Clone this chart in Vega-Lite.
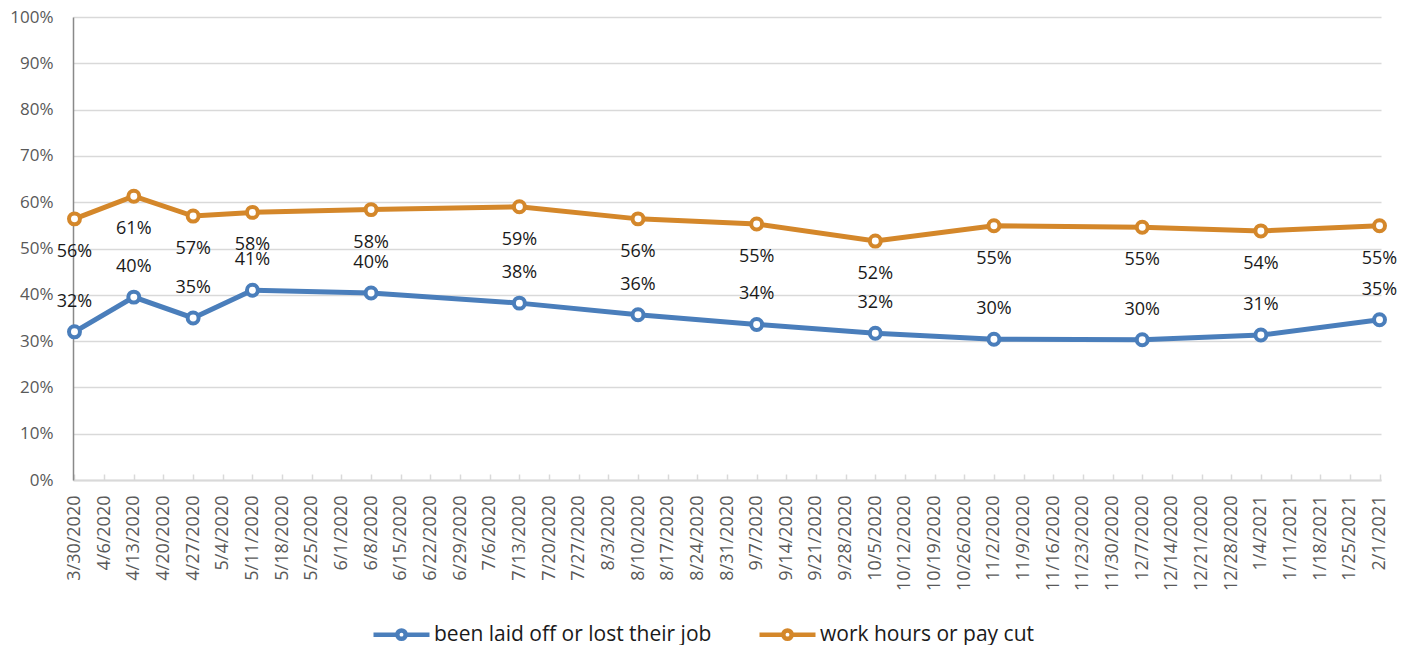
{
  "$schema": "https://vega.github.io/schema/vega-lite/v6.json",
  "width": 1308,
  "height": 463,
  "autosize": "none",
  "padding": {"left": 73, "top": 17, "right": 31, "bottom": 165},
  "background": "white",
  "config": {
    "view": {"stroke": null},
    "font": "Open Sans",
    "axis": {"labelFont": "Open Sans", "labelColor": "#595959"}
  },
  "data": {
    "values": [
      {"date": "3/30/2020", "series": "been laid off or lost their job", "value": 0.320},
      {"date": "4/13/2020", "series": "been laid off or lost their job", "value": 0.395},
      {"date": "4/27/2020", "series": "been laid off or lost their job", "value": 0.350},
      {"date": "5/11/2020", "series": "been laid off or lost their job", "value": 0.410},
      {"date": "6/8/2020", "series": "been laid off or lost their job", "value": 0.404},
      {"date": "7/13/2020", "series": "been laid off or lost their job", "value": 0.382},
      {"date": "8/10/2020", "series": "been laid off or lost their job", "value": 0.357},
      {"date": "9/7/2020", "series": "been laid off or lost their job", "value": 0.336},
      {"date": "10/5/2020", "series": "been laid off or lost their job", "value": 0.317},
      {"date": "11/2/2020", "series": "been laid off or lost their job", "value": 0.304},
      {"date": "12/7/2020", "series": "been laid off or lost their job", "value": 0.303},
      {"date": "1/4/2021", "series": "been laid off or lost their job", "value": 0.313},
      {"date": "2/1/2021", "series": "been laid off or lost their job", "value": 0.346},
      {"date": "3/30/2020", "series": "work hours or pay cut", "value": 0.564},
      {"date": "4/13/2020", "series": "work hours or pay cut", "value": 0.613},
      {"date": "4/27/2020", "series": "work hours or pay cut", "value": 0.570},
      {"date": "5/11/2020", "series": "work hours or pay cut", "value": 0.578},
      {"date": "6/8/2020", "series": "work hours or pay cut", "value": 0.584},
      {"date": "7/13/2020", "series": "work hours or pay cut", "value": 0.590},
      {"date": "8/10/2020", "series": "work hours or pay cut", "value": 0.564},
      {"date": "9/7/2020", "series": "work hours or pay cut", "value": 0.553},
      {"date": "10/5/2020", "series": "work hours or pay cut", "value": 0.516},
      {"date": "11/2/2020", "series": "work hours or pay cut", "value": 0.549},
      {"date": "12/7/2020", "series": "work hours or pay cut", "value": 0.546},
      {"date": "1/4/2021", "series": "work hours or pay cut", "value": 0.538},
      {"date": "2/1/2021", "series": "work hours or pay cut", "value": 0.549}
    ]
  },
  "encoding": {
    "x": {
      "field": "date",
      "type": "ordinal",
      "sort": null,
      "scale": {
        "type": "point",
        "padding": 0.05,
        "domain": ["3/30/2020","4/6/2020","4/13/2020","4/20/2020","4/27/2020","5/4/2020","5/11/2020","5/18/2020","5/25/2020","6/1/2020","6/8/2020","6/15/2020","6/22/2020","6/29/2020","7/6/2020","7/13/2020","7/20/2020","7/27/2020","8/3/2020","8/10/2020","8/17/2020","8/24/2020","8/31/2020","9/7/2020","9/14/2020","9/21/2020","9/28/2020","10/5/2020","10/12/2020","10/19/2020","10/26/2020","11/2/2020","11/9/2020","11/16/2020","11/23/2020","11/30/2020","12/7/2020","12/14/2020","12/21/2020","12/28/2020","1/4/2021","1/11/2021","1/18/2021","1/25/2021","2/1/2021"]
      },
      "axis": {
        "title": null,
        "labelAngle": -90,
        "labelAlign": "right",
        "labelBaseline": "middle",
        "labelFontSize": 18,
        "labelPadding": 21,
        "tickSize": -6,
        "tickColor": "#d9d9d9",
        "tickWidth": 1.5,
        "domainColor": "#d9d9d9",
        "domainWidth": 2,
        "grid": false
      }
    },
    "y": {
      "field": "value",
      "type": "quantitative",
      "scale": {"domain": [0, 1]},
      "axis": {
        "title": null,
        "format": ".0%",
        "values": [0, 0.1, 0.2, 0.3, 0.4, 0.5, 0.6, 0.7, 0.8, 0.9, 1],
        "labelFontSize": 17,
        "labelPadding": 20,
        "ticks": false,
        "domainColor": "#898989",
        "domainWidth": 1.5,
        "grid": true,
        "gridColor": "#d9d9d9",
        "gridWidth": 1.5
      }
    }
  },
  "layer": [
    {
      "mark": {"type": "line", "strokeWidth": 5},
      "encoding": {
        "color": {
          "field": "series",
          "type": "nominal",
          "scale": {
            "domain": ["been laid off or lost their job", "work hours or pay cut"],
            "range": ["#4a7ebb", "#d4872a"]
          },
          "legend": {
            "title": null,
            "orient": "none",
            "direction": "horizontal",
            "legendX": 298,
            "legendY": 587,
            "symbolType": "M-1,0L-0.15,0M0.15,0L1,0M-0.15,0A0.15,0.15,0,1,1,0.15,0A0.15,0.15,0,1,1,-0.15,0Z",
            "symbolSize": 3136,
            "symbolStrokeWidth": 4.5,
            "symbolFillColor": "white",
            "labelFontSize": 21,
            "labelColor": "#1a1a1a",
            "labelFont": "Open Sans",
            "labelOffset": 2,
            "columnPadding": 38,
            "labelLimit": 400
          }
        }
      }
    },
    {
      "mark": {"type": "point", "shape": "circle", "filled": true, "opacity": 1, "size": 120, "strokeWidth": 4},
      "encoding": {
        "color": {"value": "white"},
        "stroke": {
          "field": "series",
          "type": "nominal",
          "scale": {
            "domain": ["been laid off or lost their job", "work hours or pay cut"],
            "range": ["#4a7ebb", "#d4872a"]
          },
          "legend": null
        }
      }
    },
    {
      "transform": [{"filter": "datum.series === 'been laid off or lost their job'"}],
      "mark": {"type": "text", "dy": -30, "fontSize": 18, "font": "Open Sans"},
      "encoding": {"text": {"field": "value", "type": "quantitative", "format": ".0%"}, "color": {"value": "#1a1a1a"}}
    },
    {
      "transform": [{"filter": "datum.series === 'work hours or pay cut'"}],
      "mark": {"type": "text", "dy": 33, "fontSize": 18, "font": "Open Sans"},
      "encoding": {"text": {"field": "value", "type": "quantitative", "format": ".0%"}, "color": {"value": "#1a1a1a"}}
    }
  ]
}
